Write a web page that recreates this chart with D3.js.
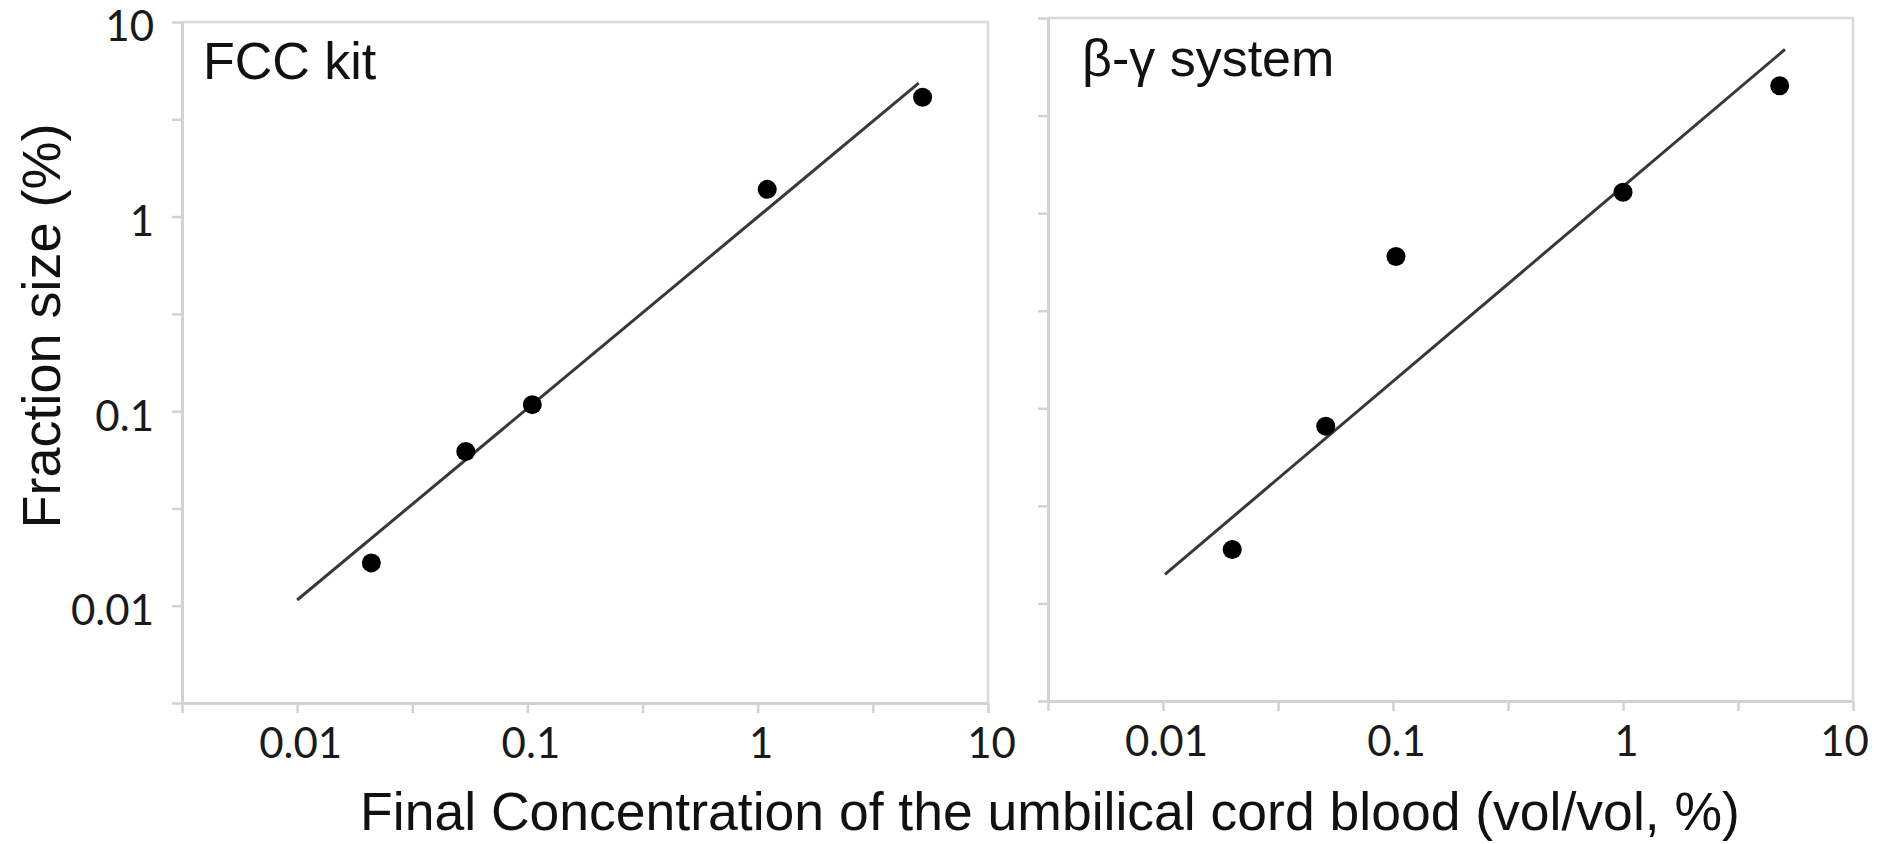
<!DOCTYPE html>
<html>
<head>
<meta charset="utf-8">
<script src="https://cdn.jsdelivr.net/npm/d3@7"></script>
<style>
  body { margin: 0; background: #fff; }
  svg { display: block; }
</style>
</head>
<body>
<svg id="chart" width="1877" height="844"></svg>
<script>
// values
const panelNames = ['FCC kit', 'β-γ system']

const fccX = [0.021, 0.054, 0.105, 1.1, 5.2]
const fccY = [0.0166, 0.062, 0.108, 1.38, 4.1]
const fccFitX = [0.01, 5.0]
const fccFitY = [0.0107, 4.85]

const bgX = [0.02, 0.051, 0.103, 1.0, 4.8]
const bgY = [0.0189, 0.081, 0.6, 1.28, 4.5]
const bgFitX = [0.0102, 5.06]
const bgFitY = [0.0141, 6.9]

const tickValues = [0.01, 0.1, 1, 10]
const tickLabels = ['0.01', '0.1', '1', '10']
const minorTicks = [Math.pow(10, -2.5), Math.pow(10, -1.5), Math.pow(10, -0.5), Math.pow(10, 0.5)]

const xTitle = 'Final Concentration of the umbilical cord blood (vol/vol, %)'
const yTitle = 'Fraction size (%)'

const svg = d3.select('#chart')
const axisColor = '#d2d2d2'
const lowEnd = Math.pow(10, -2.5)

const panels = [
    { name: panelNames[0], xs: fccX, ys: fccY, fx: fccFitX, fy: fccFitY,
      left: 182, right: 988, top: 22, bottom: 703, labels: true, nameX: 203, nameY: 79 },
    { name: panelNames[1], xs: bgX, ys: bgY, fx: bgFitX, fy: bgFitY,
      left: 1048, right: 1853, top: 18, bottom: 701, labels: false, nameX: 1082, nameY: 76 }
]

const allTicks = tickValues.concat(minorTicks).sort((a, b) => a - b)
const labelFor = v => {
    const i = tickValues.indexOf(v)
    return i >= 0 ? tickLabels[i] : ''
}

panels.forEach((p, pi) => {
    const x = d3.scaleLog().domain([lowEnd, 10]).range([p.left, p.right])
    const y = d3.scaleLog().domain([lowEnd, 10]).range([p.bottom, p.top])

    // plot frame (top and right)
    svg.append('path')
        .attr('d', `M${p.left},${p.top}H${p.right}V${p.bottom}`)
        .attr('fill', 'none')
        .attr('stroke', '#dadada')
        .attr('stroke-width', 2.5)

    const gx = svg.append('g')
        .attr('transform', `translate(0,${p.bottom})`)
        .call(d3.axisBottom(x).tickValues(allTicks).tickFormat(labelFor)
            .tickSize(10).tickSizeOuter(0).tickPadding(15))
    const gy = svg.append('g')
        .attr('transform', `translate(${p.left},0)`)
        .call(d3.axisLeft(y).tickValues(allTicks).tickFormat(p.labels ? labelFor : () => '')
            .tickSize(10).tickSizeOuter(0).tickPadding(18))

    ;[gx, gy].forEach(g => {
        g.select('.domain').attr('stroke', axisColor).attr('stroke-width', 3)
        g.selectAll('.tick line').attr('stroke', axisColor).attr('stroke-width', 2.5)
        g.selectAll('.tick text')
            .attr('fill', '#1a1a1a')
            .style('font-family', 'Lato, "Open Sans", sans-serif')
            .style('font-size', '42px')
    })
    gy.selectAll('.tick text').attr('dy', '0.45em')
    gx.selectAll('.tick text').attr('dx', d => (pi === 1 && d === 10) ? -9 : 3)

    // fitted line
    const fit = p.fx.map((v, i) => [v, p.fy[i]])
    svg.append('path')
        .datum(fit)
        .attr('d', d3.line().x(d => x(d[0])).y(d => y(d[1])))
        .attr('fill', 'none')
        .attr('stroke', '#383838')
        .attr('stroke-width', 3)

    // points
    svg.append('g').selectAll('circle')
        .data(p.xs.map((v, i) => [v, p.ys[i]]))
        .enter()
        .append('circle')
        .attr('cx', d => x(d[0]))
        .attr('cy', d => y(d[1]))
        .attr('r', 9.5)
        .attr('fill', '#000')

    svg.append('text')
        .attr('x', p.nameX)
        .attr('y', p.nameY)
        .style('font-family', '"Liberation Sans", Arial, sans-serif')
        .style('font-size', '52px')
        .attr('fill', '#111')
        .text(p.name)
})

svg.append('text')
    .attr('transform', 'translate(60,326) rotate(-90)')
    .attr('text-anchor', 'middle')
    .style('font-family', '"Liberation Sans", Arial, sans-serif')
    .style('font-size', '54px')
    .attr('fill', '#111')
    .text(yTitle)

svg.append('text')
    .attr('x', 1050)
    .attr('y', 830)
    .attr('text-anchor', 'middle')
    .style('font-family', '"Liberation Sans", Arial, sans-serif')
    .style('font-size', '53.5px')
    .attr('fill', '#111')
    .text(xTitle)
</script>
</body>
</html>
